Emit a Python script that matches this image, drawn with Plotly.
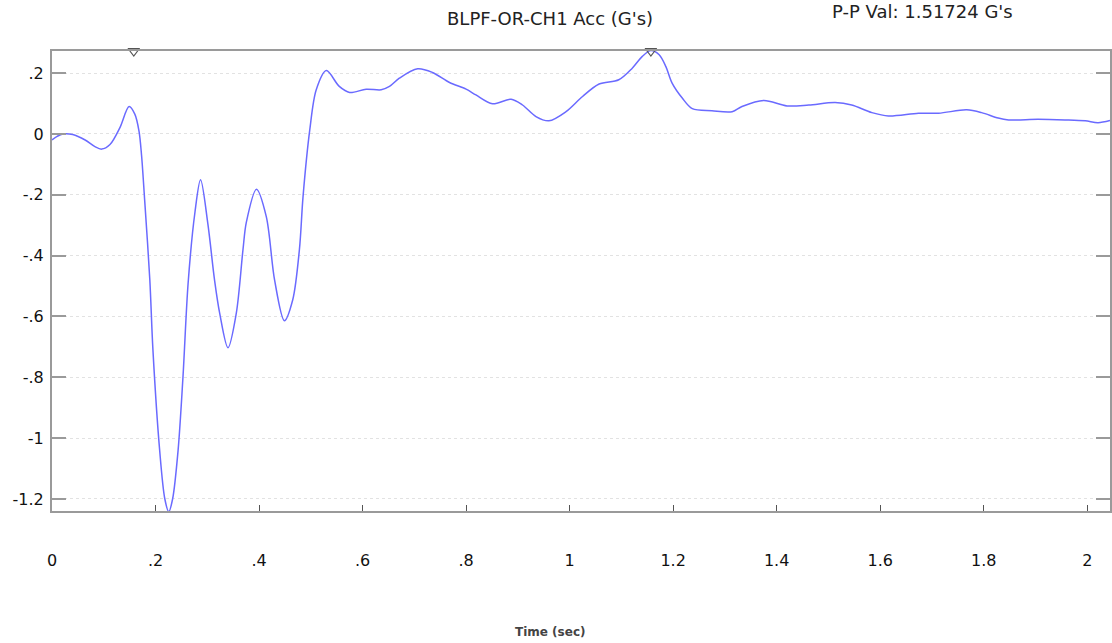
import plotly.graph_objects as go

# ---- data ----
time_s = [0.000, 0.010, 0.021, 0.040, 0.064, 0.083, 0.096, 0.112, 0.131, 0.149,
          0.160, 0.168, 0.173, 0.179, 0.189, 0.195, 0.208, 0.218, 0.2256, 0.233,
          0.2436, 0.253, 0.263, 0.276, 0.287, 0.301, 0.314, 0.324, 0.340, 0.356,
          0.369, 0.3755, 0.395, 0.414, 0.430, 0.449, 0.465, 0.478, 0.485, 0.498,
          0.5105, 0.530, 0.555, 0.575, 0.607, 0.636, 0.652, 0.671, 0.7065, 0.735,
          0.768, 0.800, 0.819, 0.851, 0.887, 0.909, 0.935, 0.960, 0.993, 1.025,
          1.057, 1.095, 1.121, 1.140, 1.157, 1.173, 1.186, 1.198, 1.218, 1.237,
          1.275, 1.314, 1.333, 1.375, 1.420, 1.462, 1.513, 1.545, 1.584, 1.616,
          1.674, 1.713, 1.767, 1.796, 1.828, 1.848, 1.905, 1.957, 1.996, 2.021,
          2.044]
acc_g = [-0.020, -0.008, 0.000, -0.002, -0.020, -0.042, -0.050, -0.035, 0.020, 0.090,
         0.065, 0.010, -0.070, -0.217, -0.480, -0.710, -1.040, -1.200, -1.242, -1.200,
         -1.040, -0.800, -0.490, -0.260, -0.151, -0.294, -0.480, -0.590, -0.703, -0.590,
         -0.380, -0.290, -0.182, -0.272, -0.480, -0.614, -0.546, -0.380, -0.206, 0.013,
         0.145, 0.208, 0.156, 0.136, 0.147, 0.145, 0.156, 0.183, 0.214, 0.202,
         0.169, 0.147, 0.128, 0.099, 0.114, 0.095, 0.057, 0.043, 0.073, 0.123,
         0.164, 0.178, 0.216, 0.254, 0.274, 0.260, 0.221, 0.167, 0.117, 0.083,
         0.076, 0.073, 0.090, 0.110, 0.092, 0.095, 0.103, 0.095, 0.070, 0.059,
         0.068, 0.068, 0.079, 0.070, 0.052, 0.046, 0.048, 0.046, 0.043, 0.037,
         0.044]

cursor_x = [0.158, 1.157]

x_tickvals = [0, 0.2, 0.4, 0.6, 0.8, 1.0, 1.2, 1.4, 1.6, 1.8, 2.0]
x_ticktext = ["0", ".2", ".4", ".6", ".8", "1", "1.2", "1.4", "1.6", "1.8", "2"]
y_tickvals = [0.2, 0, -0.2, -0.4, -0.6, -0.8, -1.0, -1.2]
y_ticktext = [".2", "0", "-.2", "-.4", "-.6", "-.8", "-1", "-1.2"]

title_text = "BLPF-OR-CH1 Acc (G's)"
pp_text = "P-P Val: 1.51724 G's"
x_title = "Time (sec)"

x_range = [0, 2.044]
y_range = [-1.2395, 0.2725]

FONT = "DejaVu Sans, Liberation Sans, Arial, sans-serif"

fig = go.Figure()
fig.add_trace(go.Scatter(
    x=time_s, y=acc_g, mode="lines",
    line=dict(color="#6a6aff", width=1.5, shape="spline", smoothing=0.9),
    hoverinfo="skip", cliponaxis=True,
))
fig.add_trace(go.Scatter(
    x=cursor_x, y=[y_range[1]] * len(cursor_x), mode="markers",
    marker=dict(symbol="triangle-down-open", size=10, color="#555555",
                line=dict(width=1.2, color="#555555")),
    cliponaxis=False, hoverinfo="skip",
))

fig.update_layout(
    width=1112, height=643,
    margin=dict(l=52, r=0, t=51, b=132),
    paper_bgcolor="white", plot_bgcolor="white",
    showlegend=False,
    font=dict(family=FONT, color="#111111"),
    annotations=[
        dict(text=title_text, xref="paper", yref="paper",
             x=0.4708, y=1.0696, xanchor="center", yanchor="middle",
             showarrow=False, font=dict(size=18, family=FONT, color="#222222")),
        dict(text=pp_text, xref="paper", yref="paper",
             x=0.7358, y=1.0848, xanchor="left", yanchor="middle",
             showarrow=False, font=dict(size=18, family=FONT, color="#222222")),
        dict(text="<b>" + x_title + "</b>", xref="paper", yref="paper",
             x=0.4708, y=-0.263, xanchor="center", yanchor="middle",
             showarrow=False, font=dict(size=12, family="DejaVu Sans, sans-serif", color="#444444")),
    ],
)

fig.update_xaxes(
    range=x_range, tickmode="array", tickvals=x_tickvals, ticktext=x_ticktext,
    showline=True, linecolor="#9a9a9a", linewidth=2, mirror=True,
    ticks="inside", ticklen=6, tickwidth=1, tickcolor="#555555",
    showgrid=False, zeroline=False,
    tickfont=dict(size=16, family=FONT, color="#111111"),
    ticklabelstandoff=34,
)
fig.update_yaxes(
    range=y_range, tickmode="array", tickvals=y_tickvals, ticktext=y_ticktext,
    showline=True, linecolor="#9a9a9a", linewidth=2, mirror="ticks",
    ticks="inside", ticklen=14, tickwidth=2, tickcolor="#9a9a9a",
    showgrid=True, gridcolor="#e2e2e2", gridwidth=1, griddash="dot",
    zeroline=False,
    tickfont=dict(size=16, family=FONT, color="#111111"),
    ticklabelstandoff=3,
)

fig.write_html("out.html",
               config={"displayModeBar": False},
               post_script="document.body.style.margin='0px';document.body.style.padding='0px';")
